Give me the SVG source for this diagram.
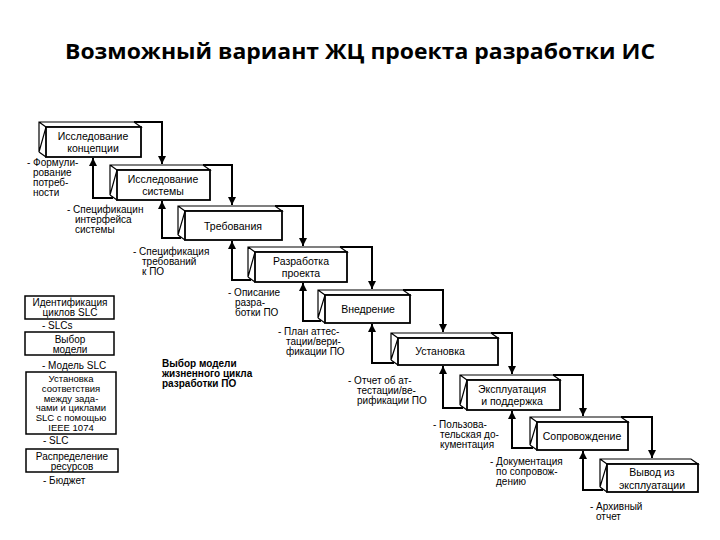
<svg xmlns="http://www.w3.org/2000/svg" width="720" height="540" viewBox="0 0 720 540">
<style>
.bx{fill:#fff;stroke:#000;stroke-width:1.2}
.fr{fill:#fff;stroke:#000;stroke-width:1.8}
.cn{fill:none;stroke:#000;stroke-width:2}
.t{font-family:"Liberation Sans",Arial,sans-serif;font-size:10px;fill:#000}
.k{font-size:10.5px}
.c{text-anchor:middle}
.s{font-size:9.5px}
.b{font-weight:bold;font-size:10px}
.lb{fill:#fff;stroke:#000;stroke-width:1.5}
.title{font-family:"Open Sans","Liberation Sans",sans-serif;font-weight:bold;font-size:22px;fill:#000;text-anchor:middle}
</style>
<defs>
<marker id="ar" viewBox="0 0 10 10" refX="10" refY="5" markerWidth="4" markerHeight="4" orient="auto" markerUnits="strokeWidth">
<path d="M0,0 L10,5 L0,10 z" fill="#000"/>
</marker>
</defs>
<rect width="720" height="540" fill="#fff"/>
<text class="title" x="360" y="59" textLength="590" lengthAdjust="spacingAndGlyphs">Возможный вариант ЖЦ проекта разработки ИС</text>

<g id="connectors">
<path class="cn" d="M134,122 H162 V164" marker-end="url(#ar)"/>
<path class="cn" d="M203,165 H232 V205" marker-end="url(#ar)"/>
<path class="cn" d="M275,206 H303 V246" marker-end="url(#ar)"/>
<path class="cn" d="M340,247 H372 V289" marker-end="url(#ar)"/>
<path class="cn" d="M403,290 H443 V332" marker-end="url(#ar)"/>
<path class="cn" d="M491,333 H512 V374" marker-end="url(#ar)"/>
<path class="cn" d="M553,375 H583 V416" marker-end="url(#ar)"/>
<path class="cn" d="M621,417 H652 V458" marker-end="url(#ar)"/>

<path class="cn" d="M113,198 H93 V158" marker-end="url(#ar)"/>
<path class="cn" d="M181,238 H162 V201" marker-end="url(#ar)"/>
<path class="cn" d="M251,280 H232 V241" marker-end="url(#ar)"/>
<path class="cn" d="M321,321 H303 V283" marker-end="url(#ar)"/>
<path class="cn" d="M394,363 H372 V324" marker-end="url(#ar)"/>
<path class="cn" d="M463,408 H443 V366" marker-end="url(#ar)"/>
<path class="cn" d="M533,448 H512 V411" marker-end="url(#ar)"/>
<path class="cn" d="M603,490 H583 V451" marker-end="url(#ar)"/>
</g>

<g id="n1">
<path class="bx" d="M39,152 V122 H134 L141,127 H46 Z M39,122 L46,127 M39,152 L46,157"/>
<rect class="fr" x="46" y="127" width="95" height="30"/>
<text class="t k c" x="93" y="140">Исследование</text>
<text class="t k c" x="93" y="152">концепции</text>
</g>
<g id="n2">
<path class="bx" d="M110,195 V165 H203 L210,170 H117 Z M110,165 L117,170 M110,195 L117,200"/>
<rect class="fr" x="117" y="170" width="93" height="30"/>
<text class="t k c" x="163" y="183">Исследование</text>
<text class="t k c" x="163" y="195">системы</text>
</g>
<g id="n3">
<path class="bx" d="M178,235 V206 H275 L282,211 H185 Z M178,206 L185,211 M178,235 L185,240"/>
<rect class="fr" x="185" y="211" width="97" height="29"/>
<text class="t k c" x="233" y="230">Требования</text>
</g>
<g id="n4">
<path class="bx" d="M248,277 V247 H340 L347,252 H255 Z M248,247 L255,252 M248,277 L255,282"/>
<rect class="fr" x="255" y="252" width="92" height="30"/>
<text class="t k c" x="301" y="265">Разработка</text>
<text class="t k c" x="301" y="277">проекта</text>
</g>
<g id="n5">
<path class="bx" d="M318,318 V290 H403 L410,295 H325 Z M318,290 L325,295 M318,318 L325,323"/>
<rect class="fr" x="325" y="295" width="85" height="28"/>
<text class="t k c" x="368" y="313">Внедрение</text>
</g>
<g id="n6">
<path class="bx" d="M391,360 V333 H491 L498,338 H398 Z M391,333 L398,338 M391,360 L398,365"/>
<rect class="fr" x="398" y="338" width="100" height="27"/>
<text class="t k c" x="440" y="355">Установка</text>
</g>
<g id="n7">
<path class="bx" d="M460,405 V375 H553 L560,380 H467 Z M460,375 L467,380 M460,405 L467,410"/>
<rect class="fr" x="467" y="380" width="93" height="30"/>
<text class="t k c" x="512" y="393">Эксплуатация</text>
<text class="t k c" x="512" y="405">и поддержка</text>
</g>
<g id="n8">
<path class="bx" d="M530,445 V417 H621 L628,422 H537 Z M530,417 L537,422 M530,445 L537,450"/>
<rect class="fr" x="537" y="422" width="91" height="28"/>
<text class="t k c" x="582" y="440">Сопровождение</text>
</g>
<g id="n9">
<path class="bx" d="M600,487 V459 H691 L698,464 H607 Z M600,459 L607,464 M600,487 L607,492"/>
<rect class="fr" x="607" y="464" width="91" height="28"/>
<text class="t k c" x="652" y="476">Вывод из</text>
<text class="t k c" x="652" y="489">эксплуатации</text>
</g>

<g id="labels">
<text class="t" x="27" y="166">- Формули-</text>
<text class="t" x="33" y="176">рование</text>
<text class="t" x="33" y="186">потреб-</text>
<text class="t" x="33" y="196">ности</text>

<text class="t" x="67" y="213">- Спецификацин</text>
<text class="t" x="75" y="223">интерфейса</text>
<text class="t" x="75" y="233">системы</text>

<text class="t" x="133" y="255">- Спецификация</text>
<text class="t" x="142" y="265">требований</text>
<text class="t" x="142" y="275">к ПО</text>

<text class="t" x="228" y="296">- Описание</text>
<text class="t" x="235" y="306">разра-</text>
<text class="t" x="235" y="316">ботки ПО</text>

<text class="t" x="278" y="335">- План аттес-</text>
<text class="t" x="286" y="345">тации/вери-</text>
<text class="t" x="286" y="355">фикации ПО</text>

<text class="t" x="348" y="384">- Отчет об ат-</text>
<text class="t" x="357" y="394">тестации/ве-</text>
<text class="t" x="357" y="404">рификации ПО</text>

<text class="t" x="433" y="428">- Пользова-</text>
<text class="t" x="440" y="438">тельская до-</text>
<text class="t" x="440" y="448">кументация</text>

<text class="t" x="490" y="465">- Документация</text>
<text class="t" x="496" y="475">по сопровож-</text>
<text class="t" x="496" y="485">дению</text>

<text class="t" x="590" y="510">- Архивный</text>
<text class="t" x="596" y="520">отчет</text>
</g>

<g id="l1">
<rect class="lb" x="25" y="296" width="89" height="23"/>
<text class="t c" x="70" y="306">Идентификация</text>
<text class="t c" x="70" y="316">циклов SLC</text>
</g>
<text class="t" x="42" y="329">- SLCs</text>
<g id="l2">
<rect class="lb" x="25" y="332" width="89" height="23"/>
<text class="t c" x="70" y="343">Выбор</text>
<text class="t c" x="70" y="353">модели</text>
</g>
<text class="t" x="42" y="369">- Модель SLC</text>
<g id="l3">
<rect class="lb" x="26" y="372" width="90" height="62"/>
<text class="t s c" x="71" y="382">Установка</text>
<text class="t s c" x="71" y="391.8">соответствия</text>
<text class="t s c" x="71" y="401.6">между зада-</text>
<text class="t s c" x="71" y="411.4">чами и циклами</text>
<text class="t s c" x="71" y="421.2">SLC с помощью</text>
<text class="t s c" x="71" y="431">IEEE 1074</text>
</g>
<text class="t" x="43" y="444">- SLC</text>
<g id="l4">
<rect class="lb" x="26" y="449" width="92" height="23"/>
<text class="t c" x="72" y="459.5">Распределение</text>
<text class="t c" x="72" y="469.5">ресурсов</text>
</g>
<text class="t" x="43" y="484">- Бюджет</text>

<g id="note">
<text class="t b" x="162" y="367">Выбор модели</text>
<text class="t b" x="162" y="377">жизненного цикла</text>
<text class="t b" x="162" y="387">разработки ПО</text>
</g>
</svg>
